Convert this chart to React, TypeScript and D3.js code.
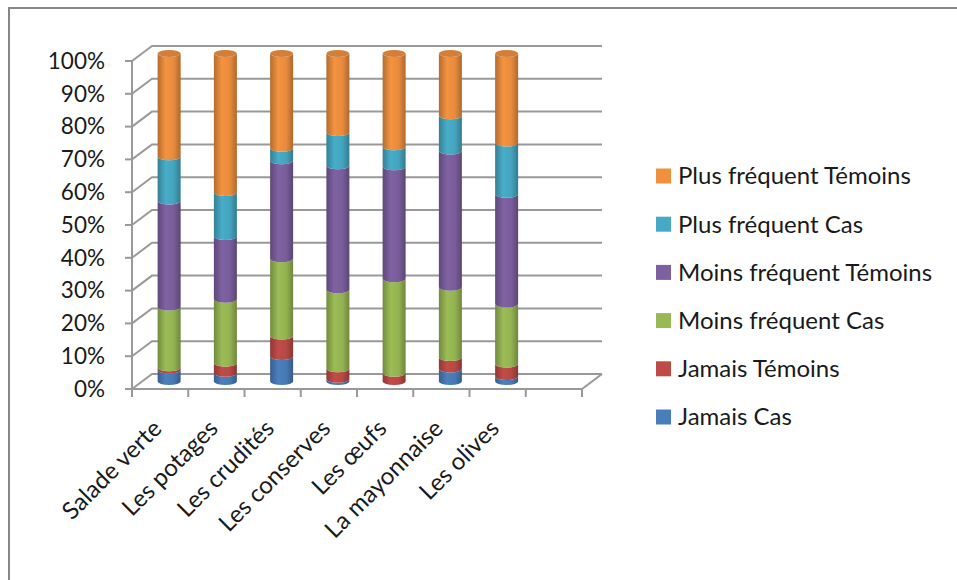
import React, { useEffect, useRef } from 'react';
import * as d3 from 'd3';

const categories = ['Salade verte', 'Les potages', 'Les crudités', 'Les conserves', 'Les œufs', 'La mayonnaise', 'Les olives'];
const seriesNames = ['Jamais Cas', 'Jamais Témoins', 'Moins fréquent Cas', 'Moins fréquent Témoins', 'Plus fréquent Cas', 'Plus fréquent Témoins'];
const seriesColors = ['#4A7EBB', '#BE4B48', '#98B954', '#7D60A0', '#46AAC5', '#F0903F'];

// percentages
const jamaisCas = [3.5, 2.5, 7.6, 0.7, 0, 3.8, 1.5];
const jamaisTemoins = [0.7, 3.1, 6.3, 3.2, 2.5, 3.5, 3.8];
const moinsCas = [18.5, 19.5, 23.5, 24.1, 28.8, 21.4, 18.3];
const moinsTemoins = [32.3, 19.1, 29.9, 37.8, 34.2, 41.6, 33.5];
const plusCas = [13.5, 13.4, 3.8, 10.1, 6.1, 10.7, 15.6];
const plusTemoins = [31.5, 42.4, 28.9, 24.1, 28.4, 19.0, 27.3];

const yTicks = [0, 0.1, 0.2, 0.3, 0.4, 0.5, 0.6, 0.7, 0.8, 0.9, 1];

const FONT = 'Lato, "Noto Sans", sans-serif';

const App = () => {
  const ref = useRef<SVGSVGElement | null>(null);

  useEffect(() => {
    if (!ref.current) return;
    const svg = d3.select(ref.current);
    svg.selectAll('*').remove();

    const allSeries = [jamaisCas, jamaisTemoins, moinsCas, moinsTemoins, plusCas, plusTemoins];
    const rows = categories.map((c, i) => {
      const r: any = { cat: c };
      seriesNames.forEach((s, k) => (r[s] = allSeries[k][i]));
      return r;
    });
    const stacked = d3.stack().keys(seriesNames).offset(d3.stackOffsetExpand)(rows);

    // fake 3d: depth offset of the back wall
    const depthX = 20;
    const depthY = -15;

    const x = d3.scaleBand().domain([...categories, '']).range([132, 582]);
    const y = d3.scaleLinear().domain([0, 1]).range([389, 61]);

    // outer chart border (only top and left are in frame)
    svg.append('path')
      .attr('d', 'M9,580 L9,8 L957,8')
      .attr('fill', 'none')
      .attr('stroke', '#868686')
      .attr('stroke-width', 2);

    const defs = svg.append('defs');
    seriesColors.forEach((c, k) => {
      const g = defs.append('linearGradient').attr('id', 'cyl' + k).attr('x1', 0).attr('x2', 1).attr('y1', 0).attr('y2', 0);
      const base = d3.color(c)!;
      g.append('stop').attr('offset', '0%').attr('stop-color', base.darker(0.8).toString());
      g.append('stop').attr('offset', '35%').attr('stop-color', base.brighter(0.05).toString());
      g.append('stop').attr('offset', '70%').attr('stop-color', base.darker(0.1).toString());
      g.append('stop').attr('offset', '100%').attr('stop-color', base.darker(0.9).toString());
    });

    const grid = svg.append('g').attr('fill', 'none').attr('stroke', '#999').attr('stroke-width', 2);
    const x0 = 132;
    const x1 = 582;

    yTicks.forEach(t => {
      const yy = y(t);
      grid.append('path').attr('d', `M${x0},${yy} L${x0 + depthX},${yy + depthY} L${x1 + depthX},${yy + depthY}`);
      grid.append('line').attr('x1', x0 - 7).attr('x2', x0).attr('y1', yy).attr('y2', yy);
    });
    // front axis and floor
    grid.append('line').attr('x1', x0).attr('x2', x0).attr('y1', y(1)).attr('y2', y(0));
    grid.append('path').attr('d', `M${x0},${y(0)} L${x1},${y(0)} L${x1 + depthX},${y(0) + depthY}`);
    const bounds = [...categories, ''].map(c => x(c)!).concat([x1]);
    bounds.forEach(b => {
      grid.append('line').attr('x1', b).attr('x2', b).attr('y1', y(0)).attr('y2', y(0) + 8);
    });

    // y labels
    svg.append('g')
      .selectAll('text')
      .data(yTicks)
      .join('text')
      .attr('x', 105)
      .attr('y', d => y(d))
      .attr('dy', '0.35em')
      .attr('text-anchor', 'end')
      .style('font-family', FONT)
      .style('font-size', '22.5px')
      .attr('fill', '#1a1a1a')
      .text(d => Math.round(d * 100) + '%');

    // x labels
    svg.append('g')
      .selectAll('text')
      .data(categories)
      .join('text')
      .attr('transform', d => `translate(${x(d)! + x.bandwidth() / 2 + 3},${430}) rotate(-45)`)
      .attr('text-anchor', 'end')
      .style('font-family', FONT)
      .style('font-size', '24px')
      .attr('fill', '#1a1a1a')
      .text(d => d);

    // cylinders, drawn half way into the depth
    const rx = 11.5;
    const ry = 3.5;
    const yb = (v: number) => y(v) + depthY / 2;
    const bars = svg.append('g');
    stacked.forEach((layer, k) => {
      layer.forEach((seg, i) => {
        if (seg[1] - seg[0] <= 0.0001) return;
        const cx = x(categories[i])! + x.bandwidth() / 2 + depthX / 2 - 1;
        const top = yb(seg[1]);
        const bot = yb(seg[0]);
        bars.append('path')
          .attr('d', `M${cx - rx},${top} A${rx},${ry} 0 0 0 ${cx + rx},${top} L${cx + rx},${bot} A${rx},${ry} 0 0 1 ${cx - rx},${bot} Z`)
          .attr('fill', `url(#cyl${k})`);
        if (k === seriesNames.length - 1) {
          bars.append('ellipse')
            .attr('cx', cx)
            .attr('cy', top)
            .attr('rx', rx)
            .attr('ry', ry)
            .attr('fill', d3.color(seriesColors[k])!.darker(0.35).toString());
        }
      });
    });

    // legend, top entry is the top of the stack
    const legend = svg.append('g');
    const order = [...seriesNames].reverse();
    order.forEach((s, j) => {
      const k = seriesNames.indexOf(s);
      const ly = 176 + j * 48.2;
      legend.append('rect')
        .attr('x', 656)
        .attr('y', ly - 7.5)
        .attr('width', 15)
        .attr('height', 15)
        .attr('fill', seriesColors[k]);
      legend.append('text')
        .attr('x', 678)
        .attr('y', ly)
        .attr('dy', '0.35em')
        .style('font-family', FONT)
        .style('font-size', '24px')
        .attr('fill', '#1a1a1a')
        .text(s);
    });
  }, []);

  return (
    <svg
      ref={ref}
      width={957}
      height={580}
      style={{ position: 'absolute', left: 0, top: 0, background: '#fff' }}
    />
  );
};

export default App;
